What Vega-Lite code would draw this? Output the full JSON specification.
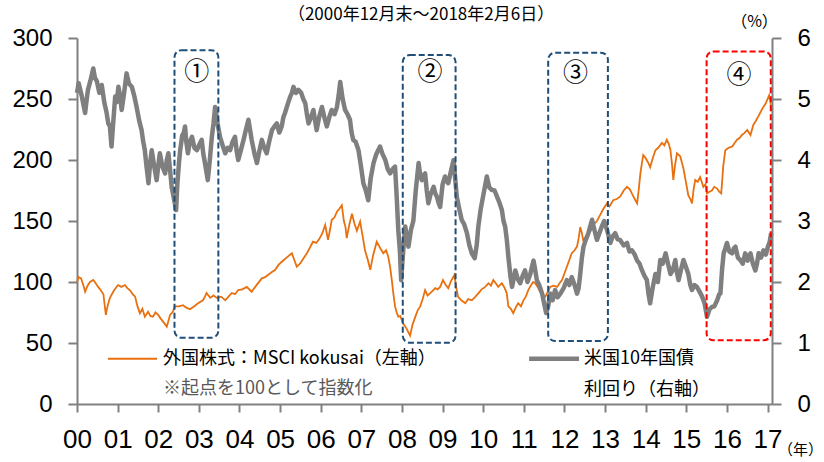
{
 "$schema": "https://vega.github.io/schema/vega-lite/v6.json",
 "width": 695, "height": 366,
 "autosize": "none",
 "padding": {"left": 77, "top": 38, "right": 52, "bottom": 58},
 "background": "white",
 "config": {
  "view": {"stroke": null},
  "axis": {"grid": false, "labelFlush": false, "labelOverlap": false, "domainColor": "#808080", "tickColor": "#808080", "domainWidth": 2, "tickWidth": 2, "labelColor": "#000000", "labelFont": "Liberation Sans", "titleFont": "Noto Sans CJK JP", "titleFontWeight": "normal", "titleColor": "#000000", "titleFontSize": 16}
 },
 "datasets": {
  "msci": [
   {"d":2000.99,"v":100},{"d":2001.03,"v":104},{"d":2001.09,"v":103},{"d":2001.15,"v":97},{"d":2001.19,"v":92},{"d":2001.25,"v":97},{"d":2001.31,"v":100},{"d":2001.39,"v":101.6},{"d":2001.45,"v":99},{"d":2001.51,"v":96},{"d":2001.58,"v":93},{"d":2001.64,"v":90},{"d":2001.70,"v":73},{"d":2001.74,"v":80},{"d":2001.80,"v":87},{"d":2001.9,"v":93},{"d":2002.00,"v":97.5},{"d":2002.08,"v":96},{"d":2002.17,"v":97.5},{"d":2002.23,"v":95},{"d":2002.30,"v":93},{"d":2002.36,"v":90},{"d":2002.42,"v":88},{"d":2002.48,"v":80},{"d":2002.54,"v":74.4},{"d":2002.60,"v":78},{"d":2002.66,"v":71.6},{"d":2002.74,"v":75.7},{"d":2002.80,"v":72},{"d":2002.86,"v":71.6},{"d":2002.92,"v":75},{"d":2002.99,"v":73},{"d":2003.05,"v":70},{"d":2003.11,"v":67.5},{"d":2003.20,"v":63.4},{"d":2003.24,"v":68},{"d":2003.28,"v":73},{"d":2003.34,"v":75},{"d":2003.40,"v":80},{"d":2003.5,"v":80},{"d":2003.60,"v":81},{"d":2003.68,"v":79},{"d":2003.77,"v":77.6},{"d":2003.87,"v":80},{"d":2003.97,"v":82.5},{"d":2004.09,"v":85},{"d":2004.14,"v":88},{"d":2004.18,"v":91},{"d":2004.27,"v":87},{"d":2004.35,"v":89},{"d":2004.43,"v":87},{"d":2004.54,"v":88},{"d":2004.64,"v":85},{"d":2004.72,"v":88},{"d":2004.80,"v":91},{"d":2004.88,"v":90},{"d":2004.96,"v":93.4},{"d":2005.06,"v":94},{"d":2005.17,"v":96},{"d":2005.29,"v":92},{"d":2005.4,"v":97},{"d":2005.54,"v":103},{"d":2005.62,"v":104},{"d":2005.69,"v":105.8},{"d":2005.78,"v":108},{"d":2005.87,"v":110},{"d":2005.95,"v":114},{"d":2006.03,"v":116.6},{"d":2006.15,"v":120},{"d":2006.28,"v":123.6},{"d":2006.34,"v":118},{"d":2006.40,"v":112.6},{"d":2006.48,"v":115},{"d":2006.56,"v":119},{"d":2006.65,"v":123.6},{"d":2006.72,"v":128},{"d":2006.80,"v":133},{"d":2006.88,"v":132},{"d":2006.95,"v":135},{"d":2007.03,"v":140},{"d":2007.10,"v":146.7},{"d":2007.17,"v":134.5},{"d":2007.22,"v":143},{"d":2007.26,"v":150.8},{"d":2007.33,"v":153},{"d":2007.39,"v":157.6},{"d":2007.45,"v":160},{"d":2007.51,"v":163},{"d":2007.56,"v":150},{"d":2007.60,"v":145},{"d":2007.63,"v":136},{"d":2007.70,"v":148},{"d":2007.76,"v":156},{"d":2007.82,"v":148},{"d":2007.88,"v":142},{"d":2007.96,"v":149.5},{"d":2008.02,"v":138},{"d":2008.08,"v":126},{"d":2008.15,"v":118},{"d":2008.21,"v":110},{"d":2008.28,"v":122},{"d":2008.37,"v":133},{"d":2008.45,"v":128},{"d":2008.53,"v":123.6},{"d":2008.60,"v":126},{"d":2008.65,"v":121},{"d":2008.70,"v":112},{"d":2008.74,"v":101.6},{"d":2008.78,"v":90},{"d":2008.82,"v":80},{"d":2008.86,"v":75},{"d":2008.90,"v":71.6},{"d":2008.95,"v":72},{"d":2009.02,"v":66},{"d":2009.1,"v":62},{"d":2009.19,"v":56},{"d":2009.25,"v":65},{"d":2009.32,"v":71.6},{"d":2009.38,"v":77},{"d":2009.44,"v":80},{"d":2009.50,"v":86},{"d":2009.56,"v":93.4},{"d":2009.62,"v":89},{"d":2009.68,"v":90.7},{"d":2009.75,"v":93},{"d":2009.81,"v":95},{"d":2009.87,"v":94},{"d":2009.93,"v":96},{"d":2010.00,"v":101.6},{"d":2010.06,"v":98},{"d":2010.13,"v":95},{"d":2010.2,"v":101},{"d":2010.28,"v":105.7},{"d":2010.33,"v":95},{"d":2010.37,"v":88},{"d":2010.45,"v":85},{"d":2010.55,"v":82.6},{"d":2010.62,"v":86},{"d":2010.71,"v":85},{"d":2010.8,"v":88},{"d":2010.87,"v":90.7},{"d":2010.95,"v":94},{"d":2011.04,"v":96},{"d":2011.12,"v":99},{"d":2011.18,"v":97},{"d":2011.24,"v":101.6},{"d":2011.30,"v":99},{"d":2011.36,"v":96},{"d":2011.45,"v":99},{"d":2011.52,"v":95},{"d":2011.57,"v":90.7},{"d":2011.61,"v":80},{"d":2011.67,"v":78},{"d":2011.73,"v":74.4},{"d":2011.79,"v":79},{"d":2011.85,"v":82.6},{"d":2011.92,"v":80},{"d":2011.98,"v":85},{"d":2012.04,"v":88},{"d":2012.10,"v":93.4},{"d":2012.16,"v":97},{"d":2012.22,"v":100},{"d":2012.27,"v":99},{"d":2012.33,"v":96},{"d":2012.39,"v":92},{"d":2012.45,"v":90},{"d":2012.52,"v":88},{"d":2012.58,"v":92},{"d":2012.64,"v":96},{"d":2012.72,"v":97},{"d":2012.81,"v":96},{"d":2012.87,"v":99},{"d":2012.93,"v":101.6},{"d":2012.99,"v":107},{"d":2013.05,"v":112.5},{"d":2013.11,"v":118},{"d":2013.17,"v":123.6},{"d":2013.24,"v":126},{"d":2013.30,"v":129},{"d":2013.34,"v":136},{"d":2013.38,"v":145},{"d":2013.42,"v":140},{"d":2013.45,"v":134.5},{"d":2013.52,"v":137},{"d":2013.58,"v":140},{"d":2013.64,"v":142},{"d":2013.70,"v":146.7},{"d":2013.79,"v":150},{"d":2013.87,"v":155},{"d":2013.95,"v":160},{"d":2014.04,"v":164.5},{"d":2014.1,"v":162},{"d":2014.19,"v":167},{"d":2014.28,"v":168},{"d":2014.36,"v":170},{"d":2014.45,"v":175},{"d":2014.53,"v":178},{"d":2014.60,"v":176},{"d":2014.65,"v":172.6},{"d":2014.72,"v":168},{"d":2014.78,"v":164.5},{"d":2014.82,"v":176},{"d":2014.86,"v":189},{"d":2014.90,"v":198},{"d":2014.93,"v":204},{"d":2014.98,"v":202},{"d":2015.05,"v":198},{"d":2015.10,"v":194},{"d":2015.16,"v":201},{"d":2015.23,"v":208},{"d":2015.30,"v":210},{"d":2015.39,"v":214},{"d":2015.45,"v":212},{"d":2015.51,"v":216.6},{"d":2015.56,"v":213},{"d":2015.60,"v":208},{"d":2015.64,"v":196},{"d":2015.67,"v":183.6},{"d":2015.71,"v":195},{"d":2015.76,"v":205.5},{"d":2015.84,"v":203},{"d":2015.92,"v":193},{"d":2015.98,"v":182},{"d":2016.04,"v":171},{"d":2016.09,"v":168},{"d":2016.13,"v":164.5},{"d":2016.17,"v":176},{"d":2016.21,"v":183.6},{"d":2016.27,"v":182},{"d":2016.33,"v":186},{"d":2016.41,"v":178},{"d":2016.46,"v":180},{"d":2016.50,"v":172.6},{"d":2016.56,"v":174},{"d":2016.62,"v":175},{"d":2016.68,"v":178},{"d":2016.75,"v":176.6},{"d":2016.80,"v":174},{"d":2016.85,"v":172.6},{"d":2016.90,"v":195},{"d":2016.95,"v":208},{"d":2017.03,"v":210},{"d":2017.12,"v":211},{"d":2017.18,"v":214},{"d":2017.24,"v":216.6},{"d":2017.30,"v":218},{"d":2017.36,"v":220.5},{"d":2017.42,"v":222},{"d":2017.49,"v":224.6},{"d":2017.57,"v":220.5},{"d":2017.64,"v":228.7},{"d":2017.70,"v":232},{"d":2017.76,"v":235.5},{"d":2017.83,"v":240},{"d":2017.89,"v":243.7},{"d":2017.94,"v":246},{"d":2017.98,"v":249},{"d":2018.03,"v":253},{"d":2018.06,"v":248},{"d":2018.09,"v":240}
  ],
  "ust": [
   {"d":2000.99,"p":5.1},{"d":2001.03,"p":5.26},{"d":2001.07,"p":5.15},{"d":2001.11,"p":5.04},{"d":2001.15,"p":4.9},{"d":2001.19,"p":4.77},{"d":2001.23,"p":5.0},{"d":2001.26,"p":5.15},{"d":2001.32,"p":5.3},{"d":2001.39,"p":5.5},{"d":2001.43,"p":5.35},{"d":2001.48,"p":5.29},{"d":2001.54,"p":5.1},{"d":2001.60,"p":5.23},{"d":2001.66,"p":4.95},{"d":2001.72,"p":4.77},{"d":2001.76,"p":4.6},{"d":2001.80,"p":4.55},{"d":2001.84,"p":4.22},{"d":2001.88,"p":4.6},{"d":2001.93,"p":5.04},{"d":2001.97,"p":4.95},{"d":2002.01,"p":5.2},{"d":2002.05,"p":5.05},{"d":2002.09,"p":4.82},{"d":2002.15,"p":5.1},{"d":2002.21,"p":5.42},{"d":2002.27,"p":5.25},{"d":2002.34,"p":5.2},{"d":2002.40,"p":5.05},{"d":2002.46,"p":4.86},{"d":2002.52,"p":4.65},{"d":2002.58,"p":4.49},{"d":2002.62,"p":4.3},{"d":2002.66,"p":4.16},{"d":2002.70,"p":3.9},{"d":2002.75,"p":3.62},{"d":2002.79,"p":3.95},{"d":2002.83,"p":4.16},{"d":2002.89,"p":3.9},{"d":2002.95,"p":3.67},{"d":2002.99,"p":3.9},{"d":2003.03,"p":4.11},{"d":2003.09,"p":3.9},{"d":2003.16,"p":3.78},{"d":2003.20,"p":4.0},{"d":2003.24,"p":4.11},{"d":2003.28,"p":3.85},{"d":2003.32,"p":3.56},{"d":2003.38,"p":3.35},{"d":2003.43,"p":3.18},{"d":2003.46,"p":3.6},{"d":2003.50,"p":3.95},{"d":2003.53,"p":4.16},{"d":2003.58,"p":4.4},{"d":2003.62,"p":4.45},{"d":2003.65,"p":4.55},{"d":2003.68,"p":4.3},{"d":2003.72,"p":4.11},{"d":2003.77,"p":4.3},{"d":2003.82,"p":4.38},{"d":2003.88,"p":4.2},{"d":2003.94,"p":4.16},{"d":2004.0,"p":4.25},{"d":2004.06,"p":4.33},{"d":2004.10,"p":4.1},{"d":2004.14,"p":3.95},{"d":2004.21,"p":3.67},{"d":2004.26,"p":4.0},{"d":2004.31,"p":4.38},{"d":2004.35,"p":4.6},{"d":2004.39,"p":4.87},{"d":2004.45,"p":4.6},{"d":2004.51,"p":4.38},{"d":2004.57,"p":4.25},{"d":2004.64,"p":4.11},{"d":2004.70,"p":4.2},{"d":2004.76,"p":4.16},{"d":2004.82,"p":4.3},{"d":2004.88,"p":4.38},{"d":2004.92,"p":4.15},{"d":2004.96,"p":4.0},{"d":2005.02,"p":4.15},{"d":2005.09,"p":4.33},{"d":2005.15,"p":4.5},{"d":2005.21,"p":4.66},{"d":2005.25,"p":4.5},{"d":2005.29,"p":4.33},{"d":2005.36,"p":4.1},{"d":2005.42,"p":3.95},{"d":2005.48,"p":4.15},{"d":2005.54,"p":4.33},{"d":2005.60,"p":4.2},{"d":2005.66,"p":4.11},{"d":2005.72,"p":4.3},{"d":2005.79,"p":4.49},{"d":2005.85,"p":4.55},{"d":2005.91,"p":4.6},{"d":2005.97,"p":4.45},{"d":2006.03,"p":4.55},{"d":2006.07,"p":4.7},{"d":2006.11,"p":4.77},{"d":2006.17,"p":4.9},{"d":2006.24,"p":5.04},{"d":2006.28,"p":5.1},{"d":2006.32,"p":5.2},{"d":2006.38,"p":5.1},{"d":2006.44,"p":5.15},{"d":2006.51,"p":5.1},{"d":2006.56,"p":5.0},{"d":2006.61,"p":4.93},{"d":2006.65,"p":4.75},{"d":2006.69,"p":4.6},{"d":2006.75,"p":4.7},{"d":2006.81,"p":4.82},{"d":2006.85,"p":4.65},{"d":2006.89,"p":4.49},{"d":2006.95,"p":4.7},{"d":2007.02,"p":4.87},{"d":2007.08,"p":4.7},{"d":2007.14,"p":4.55},{"d":2007.20,"p":4.7},{"d":2007.26,"p":4.82},{"d":2007.33,"p":4.75},{"d":2007.39,"p":4.87},{"d":2007.43,"p":5.05},{"d":2007.47,"p":5.28},{"d":2007.53,"p":5.0},{"d":2007.59,"p":4.82},{"d":2007.65,"p":4.75},{"d":2007.71,"p":4.66},{"d":2007.75,"p":4.45},{"d":2007.79,"p":4.33},{"d":2007.85,"p":4.3},{"d":2007.92,"p":4.16},{"d":2007.98,"p":3.9},{"d":2008.04,"p":3.62},{"d":2008.10,"p":3.5},{"d":2008.16,"p":3.34},{"d":2008.22,"p":3.7},{"d":2008.29,"p":3.95},{"d":2008.36,"p":4.1},{"d":2008.45,"p":4.22},{"d":2008.51,"p":4.1},{"d":2008.58,"p":4.0},{"d":2008.64,"p":3.85},{"d":2008.70,"p":3.78},{"d":2008.76,"p":3.85},{"d":2008.82,"p":3.89},{"d":2008.86,"p":3.4},{"d":2008.90,"p":2.85},{"d":2008.94,"p":2.5},{"d":2008.97,"p":2.03},{"d":2009.02,"p":2.5},{"d":2009.07,"p":2.91},{"d":2009.11,"p":2.75},{"d":2009.15,"p":2.58},{"d":2009.21,"p":2.85},{"d":2009.27,"p":3.0},{"d":2009.33,"p":3.5},{"d":2009.40,"p":3.95},{"d":2009.44,"p":3.75},{"d":2009.48,"p":3.67},{"d":2009.52,"p":3.75},{"d":2009.56,"p":3.78},{"d":2009.60,"p":3.5},{"d":2009.64,"p":3.29},{"d":2009.70,"p":3.45},{"d":2009.77,"p":3.56},{"d":2009.81,"p":3.45},{"d":2009.85,"p":3.4},{"d":2009.89,"p":3.3},{"d":2009.93,"p":3.23},{"d":2009.99,"p":3.6},{"d":2010.05,"p":3.73},{"d":2010.09,"p":3.65},{"d":2010.13,"p":3.62},{"d":2010.19,"p":3.8},{"d":2010.26,"p":4.0},{"d":2010.30,"p":3.7},{"d":2010.34,"p":3.4},{"d":2010.40,"p":3.2},{"d":2010.46,"p":3.02},{"d":2010.52,"p":2.95},{"d":2010.59,"p":2.8},{"d":2010.65,"p":2.6},{"d":2010.71,"p":2.47},{"d":2010.78,"p":2.39},{"d":2010.83,"p":2.6},{"d":2010.87,"p":2.91},{"d":2010.93,"p":3.2},{"d":2011.00,"p":3.45},{"d":2011.08,"p":3.73},{"d":2011.14,"p":3.55},{"d":2011.20,"p":3.51},{"d":2011.27,"p":3.5},{"d":2011.33,"p":3.4},{"d":2011.39,"p":3.3},{"d":2011.45,"p":3.18},{"d":2011.49,"p":3.0},{"d":2011.53,"p":2.91},{"d":2011.57,"p":2.7},{"d":2011.61,"p":2.41},{"d":2011.66,"p":2.1},{"d":2011.70,"p":1.92},{"d":2011.74,"p":2.05},{"d":2011.78,"p":2.19},{"d":2011.84,"p":2.05},{"d":2011.90,"p":1.98},{"d":2011.96,"p":2.1},{"d":2012.02,"p":2.19},{"d":2012.08,"p":2.0},{"d":2012.15,"p":2.13},{"d":2012.19,"p":2.25},{"d":2012.23,"p":2.35},{"d":2012.27,"p":2.2},{"d":2012.31,"p":2.03},{"d":2012.37,"p":1.95},{"d":2012.44,"p":1.81},{"d":2012.49,"p":1.65},{"d":2012.54,"p":1.49},{"d":2012.59,"p":1.6},{"d":2012.64,"p":1.81},{"d":2012.70,"p":1.7},{"d":2012.76,"p":1.87},{"d":2012.82,"p":1.75},{"d":2012.89,"p":1.81},{"d":2012.97,"p":1.9},{"d":2013.05,"p":2.03},{"d":2013.11,"p":1.95},{"d":2013.17,"p":2.08},{"d":2013.24,"p":1.95},{"d":2013.30,"p":1.81},{"d":2013.34,"p":1.9},{"d":2013.38,"p":2.14},{"d":2013.42,"p":2.4},{"d":2013.46,"p":2.58},{"d":2013.52,"p":2.7},{"d":2013.58,"p":2.8},{"d":2013.62,"p":2.9},{"d":2013.67,"p":3.02},{"d":2013.73,"p":2.85},{"d":2013.79,"p":2.69},{"d":2013.85,"p":2.8},{"d":2013.91,"p":2.91},{"d":2013.97,"p":3.0},{"d":2014.04,"p":2.85},{"d":2014.08,"p":2.75},{"d":2014.12,"p":2.64},{"d":2014.18,"p":2.75},{"d":2014.24,"p":2.8},{"d":2014.30,"p":2.7},{"d":2014.36,"p":2.69},{"d":2014.45,"p":2.6},{"d":2014.53,"p":2.64},{"d":2014.59,"p":2.5},{"d":2014.65,"p":2.52},{"d":2014.72,"p":2.45},{"d":2014.78,"p":2.35},{"d":2014.84,"p":2.3},{"d":2014.90,"p":2.19},{"d":2014.96,"p":2.1},{"d":2015.02,"p":2.03},{"d":2015.06,"p":1.8},{"d":2015.10,"p":1.65},{"d":2015.16,"p":1.9},{"d":2015.23,"p":2.13},{"d":2015.29,"p":2.0},{"d":2015.35,"p":2.36},{"d":2015.41,"p":2.3},{"d":2015.48,"p":2.47},{"d":2015.54,"p":2.3},{"d":2015.60,"p":2.13},{"d":2015.66,"p":2.2},{"d":2015.72,"p":2.36},{"d":2015.76,"p":2.15},{"d":2015.80,"p":2.03},{"d":2015.86,"p":2.2},{"d":2015.92,"p":2.36},{"d":2015.98,"p":2.25},{"d":2016.04,"p":2.13},{"d":2016.09,"p":1.95},{"d":2016.13,"p":1.87},{"d":2016.19,"p":1.95},{"d":2016.25,"p":1.92},{"d":2016.31,"p":1.85},{"d":2016.38,"p":1.76},{"d":2016.44,"p":1.65},{"d":2016.50,"p":1.43},{"d":2016.56,"p":1.55},{"d":2016.62,"p":1.59},{"d":2016.68,"p":1.6},{"d":2016.75,"p":1.7},{"d":2016.80,"p":1.8},{"d":2016.83,"p":1.81},{"d":2016.87,"p":2.2},{"d":2016.91,"p":2.47},{"d":2016.95,"p":2.55},{"d":2016.99,"p":2.64},{"d":2017.05,"p":2.5},{"d":2017.12,"p":2.47},{"d":2017.16,"p":2.55},{"d":2017.20,"p":2.58},{"d":2017.26,"p":2.4},{"d":2017.32,"p":2.36},{"d":2017.38,"p":2.3},{"d":2017.44,"p":2.47},{"d":2017.50,"p":2.35},{"d":2017.57,"p":2.47},{"d":2017.63,"p":2.3},{"d":2017.69,"p":2.19},{"d":2017.73,"p":2.3},{"d":2017.77,"p":2.47},{"d":2017.83,"p":2.4},{"d":2017.89,"p":2.52},{"d":2017.95,"p":2.45},{"d":2018.00,"p":2.58},{"d":2018.04,"p":2.65},{"d":2018.08,"p":2.8}
  ],
  "boxes": [
   {"id":"1","kind":"past","d":2003.39,"d2":2004.47,"v":54.3,"v2":290},
   {"id":"2","kind":"past","d":2009.01,"d2":2010.31,"v":50.2,"v2":286},
   {"id":"3","kind":"past","d":2012.59,"d2":2014.06,"v":51.6,"v2":288},
   {"id":"4","kind":"now","d":2016.49,"d2":2018.07,"v":52.2,"v2":289}
  ],
  "nums": [
   {"t":"①","d":2003.94,"v":272.4},
   {"t":"②","d":2009.68,"v":272.4},
   {"t":"③","d":2013.26,"v":271},
   {"t":"④","d":2017.29,"v":269.7}
  ],
  "legrules": [
   {"s":"msci","d":2001.75,"d2":2002.96,"v":37.1},
   {"s":"ust","d":2012.12,"d2":2013.35,"v":37.1}
  ],
  "legtext": [
   {"t":"外国株式：MSCI kokusai（左軸）","kind":"main","d":2003.11,"v":36.9},
   {"t":"※起点を100として指数化","kind":"note","d":2003.11,"v":12.3},
   {"t":"米国10年国債","kind":"main","d":2013.47,"v":36.9},
   {"t":"利回り（右軸）","kind":"main","d":2013.47,"v":11.5}
  ],
  "heading": [
   {"t":"（2000年12月末～2018年2月6日）","d":2009.46,"v":318.5}
  ]
 },
 "encoding": {
  "x": {"field":"d","type":"quantitative",
   "scale":{"domain":[2000.99,2018.1],"nice":false,"zero":false},
   "axis":{"values":[2000.99,2001.99,2002.99,2003.99,2004.99,2005.99,2006.99,2007.99,2008.99,2009.99,2010.99,2011.99,2012.99,2013.99,2014.99,2015.99,2016.99,2017.99],
    "labelExpr":"format(floor(datum.value)-2000,'02d')",
    "labelFontSize":26,"labelPadding":14,"tickSize":8,
    "title":"（年）","titleFontSize":15,"titleX":723,"titleY":45,"titleAlign":"center","titleBaseline":"middle","titleAngle":0}}
 },
 "layer": [
  {"data":{"name":"msci"},
   "mark":{"type":"line","color":"#E8700F","strokeWidth":1.8},
   "encoding":{"y":{"field":"v","type":"quantitative","scale":{"domain":[0,300],"nice":false},
     "axis":{"values":[0,50,100,150,200,250,300],"title":null,"labelFontSize":24,"labelPadding":16,"tickSize":9}}}},
  {"data":{"name":"ust"},
   "mark":{"type":"line","color":"#7F7F7F","strokeWidth":4.5,"strokeJoin":"round"},
   "encoding":{"y":{"field":"p","type":"quantitative","scale":{"domain":[0,6],"nice":false},
     "axis":{"orient":"right","values":[0,1,2,3,4,5,6],"labelFontSize":24,"labelPadding":16,"tickSize":9,
      "title":"（%）","titleAngle":0,"titleX":-18,"titleY":-17,"titleAlign":"center","titleBaseline":"middle"}}}},
  {"encoding":{"y":{"field":"v","type":"quantitative","scale":{"domain":[0,300],"nice":false},"axis":null}},
   "layer":[
    {"data":{"name":"boxes"},
     "mark":{"type":"rect","fillOpacity":0,"strokeWidth":2,"strokeDash":[6,3],"cornerRadius":7},
     "encoding":{"x2":{"field":"d2"},"y2":{"field":"v2"},
      "stroke":{"field":"kind","type":"nominal","scale":{"domain":["past","now"],"range":["#1F4E79","#FF0000"]},"legend":null}}},
    {"data":{"name":"nums"},
     "mark":{"type":"text","font":"Noto Sans CJK JP","fontSize":25,"align":"center","baseline":"middle","color":"#000000"},
     "encoding":{"text":{"field":"t"}}},
    {"data":{"name":"legrules"},"transform":[{"filter":"datum.s === 'msci'"}],
     "mark":{"type":"rule","color":"#E8700F","strokeWidth":2},
     "encoding":{"x2":{"field":"d2"}}},
    {"data":{"name":"legrules"},"transform":[{"filter":"datum.s === 'ust'"}],
     "mark":{"type":"rule","color":"#7F7F7F","strokeWidth":4.5},
     "encoding":{"x2":{"field":"d2"}}},
    {"data":{"name":"legtext"},"transform":[{"filter":"datum.kind === 'main'"}],
     "mark":{"type":"text","font":"Noto Sans CJK JP","fontSize":18,"align":"left","baseline":"middle","color":"#000000"},
     "encoding":{"text":{"field":"t"}}},
    {"data":{"name":"legtext"},"transform":[{"filter":"datum.kind === 'note'"}],
     "mark":{"type":"text","font":"Noto Sans CJK JP","fontSize":18,"align":"left","baseline":"middle","color":"#595959"},
     "encoding":{"text":{"field":"t"}}},
    {"data":{"name":"heading"},
     "mark":{"type":"text","font":"Noto Sans CJK JP","fontSize":17,"align":"center","baseline":"middle","color":"#000000"},
     "encoding":{"text":{"field":"t"}}}
   ]}
 ],
 "resolve": {"scale": {"y": "independent"}}
}
